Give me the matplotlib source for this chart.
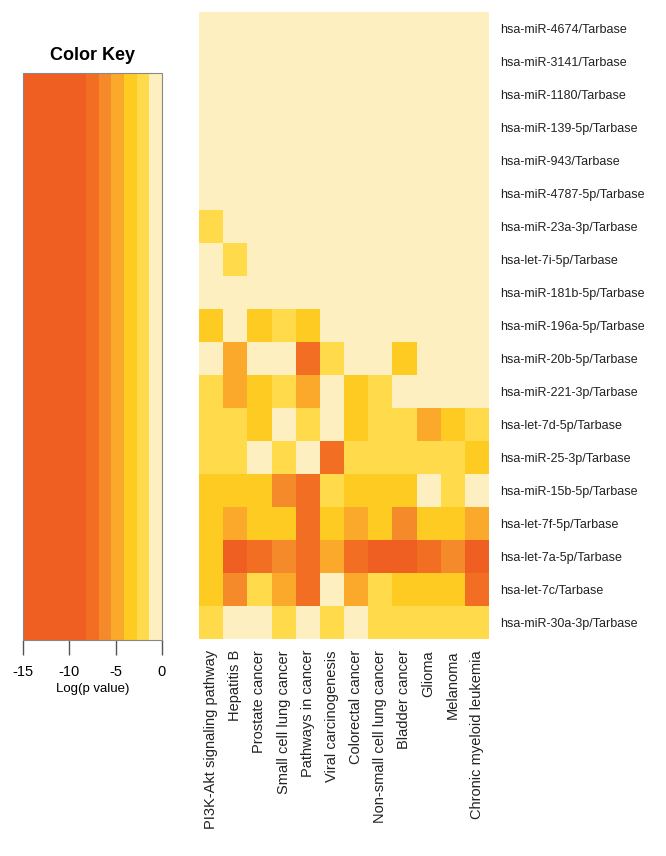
import matplotlib
matplotlib.use("Agg")
import matplotlib.pyplot as plt
import numpy as np
from matplotlib.colors import ListedColormap, BoundaryNorm
from matplotlib.colorbar import Colorbar

plt.rcParams['font.family'] = ['Liberation Sans', 'DejaVu Sans']
plt.rcParams['axes.unicode_minus'] = False

# miRNAs (rows, top to bottom)
mirnas = ["hsa-miR-4674/Tarbase", "hsa-miR-3141/Tarbase", "hsa-miR-1180/Tarbase",
          "hsa-miR-139-5p/Tarbase", "hsa-miR-943/Tarbase", "hsa-miR-4787-5p/Tarbase",
          "hsa-miR-23a-3p/Tarbase", "hsa-let-7i-5p/Tarbase", "hsa-miR-181b-5p/Tarbase",
          "hsa-miR-196a-5p/Tarbase", "hsa-miR-20b-5p/Tarbase", "hsa-miR-221-3p/Tarbase",
          "hsa-let-7d-5p/Tarbase", "hsa-miR-25-3p/Tarbase", "hsa-miR-15b-5p/Tarbase",
          "hsa-let-7f-5p/Tarbase", "hsa-let-7a-5p/Tarbase", "hsa-let-7c/Tarbase",
          "hsa-miR-30a-3p/Tarbase"]

# KEGG pathways (columns)
pathways = ["PI3K-Akt signaling pathway", "Hepatitis B", "Prostate cancer",
            "Small cell lung cancer", "Pathways in cancer", "Viral carcinogenesis",
            "Colorectal cancer", "Non-small cell lung cancer", "Bladder cancer",
            "Glioma", "Melanoma", "Chronic myeloid leukemia"]

# log(p value), estimated from the colour of each cell
logp = [
    [-0.5, -0.5, -0.5, -0.5, -0.5, -0.5, -0.5, -0.5, -0.5, -0.5, -0.5, -0.5],
    [-0.5, -0.5, -0.5, -0.5, -0.5, -0.5, -0.5, -0.5, -0.5, -0.5, -0.5, -0.5],
    [-0.5, -0.5, -0.5, -0.5, -0.5, -0.5, -0.5, -0.5, -0.5, -0.5, -0.5, -0.5],
    [-0.5, -0.5, -0.5, -0.5, -0.5, -0.5, -0.5, -0.5, -0.5, -0.5, -0.5, -0.5],
    [-0.5, -0.5, -0.5, -0.5, -0.5, -0.5, -0.5, -0.5, -0.5, -0.5, -0.5, -0.5],
    [-0.5, -0.5, -0.5, -0.5, -0.5, -0.5, -0.5, -0.5, -0.5, -0.5, -0.5, -0.5],
    [-2.0, -0.5, -0.5, -0.5, -0.5, -0.5, -0.5, -0.5, -0.5, -0.5, -0.5, -0.5],
    [-0.5, -2.0, -0.5, -0.5, -0.5, -0.5, -0.5, -0.5, -0.5, -0.5, -0.5, -0.5],
    [-0.5, -0.5, -0.5, -0.5, -0.5, -0.5, -0.5, -0.5, -0.5, -0.5, -0.5, -0.5],
    [-3.4, -0.5, -3.4, -2.0, -3.4, -0.5, -0.5, -0.5, -0.5, -0.5, -0.5, -0.5],
    [-0.5, -4.8, -0.5, -0.5, -7.5, -2.0, -0.5, -0.5, -3.4, -0.5, -0.5, -0.5],
    [-2.0, -4.8, -3.4, -2.0, -4.8, -0.5, -3.4, -2.0, -0.5, -0.5, -0.5, -0.5],
    [-2.0, -2.0, -3.4, -0.5, -2.0, -0.5, -3.4, -2.0, -2.0, -4.8, -3.4, -2.0],
    [-2.0, -2.0, -0.5, -2.0, -0.5, -7.5, -2.0, -2.0, -2.0, -2.0, -2.0, -3.4],
    [-3.4, -3.4, -3.4, -6.0, -7.5, -2.0, -3.4, -3.4, -3.4, -0.5, -2.0, -0.5],
    [-3.4, -4.8, -3.4, -3.4, -7.5, -3.4, -4.8, -3.4, -6.0, -3.4, -3.4, -4.8],
    [-3.4, -10.0, -7.5, -6.0, -7.5, -4.8, -7.5, -10.0, -10.0, -7.5, -6.0, -10.0],
    [-3.4, -6.0, -2.0, -4.8, -7.5, -0.5, -4.8, -2.0, -3.4, -3.4, -3.4, -7.5],
    [-2.0, -0.5, -0.5, -2.0, -0.5, -2.0, -0.5, -2.0, -2.0, -2.0, -2.0, -2.0],
]

breaks = np.linspace(-15, 0, 12)
colors = ['#EF5F22'] * 5 + ['#F26E22', '#F58A2A', '#FAA92A', '#FECB22', '#FFDB4C', '#FDEFC0']
cmap = ListedColormap(colors)
norm = BoundaryNorm(breaks, cmap.N)

W, H = 666, 856
fig = plt.figure(figsize=(W / 100, H / 100), dpi=100)

# heatmap
ax = fig.add_axes([199 / W, 1 - 639 / H, 290 / W, 627 / H])
data = np.array(logp)
ax.pcolormesh(data, cmap=cmap, norm=norm)
ax.set_xlim(0, len(pathways))
ax.set_ylim(len(mirnas), 0)
for s in ax.spines.values():
    s.set_visible(False)
ax.yaxis.tick_right()
ax.set_yticks(np.arange(len(mirnas)) + 0.5)
ax.set_yticklabels(mirnas, fontsize=9, color='#222222')
ax.set_xticks(np.arange(len(pathways)) + 0.5)
ax.set_xticklabels(pathways, rotation=90, fontsize=10.5, color='#222222')
ax.tick_params(length=0, pad=8)

# colour key
kax = fig.add_axes([23 / W, 1 - 640 / H, 139 / W, 567 / H])
cb = Colorbar(kax, cmap=cmap, norm=norm, orientation='horizontal')
cb.set_ticks([-15, -10, -5, 0])
cb.minorticks_off()
cb.ax.tick_params(length=11, width=1, color='#555555', labelsize=10.5, pad=7)
cb.outline.set_edgecolor('#888888')
cb.outline.set_linewidth(0.8)
cb.set_label('Log(p value)', fontsize=9.5, labelpad=3)
kax.set_title('Color Key', fontsize=13, fontweight='bold', pad=9)

fig.savefig("out.png", dpi=100)
